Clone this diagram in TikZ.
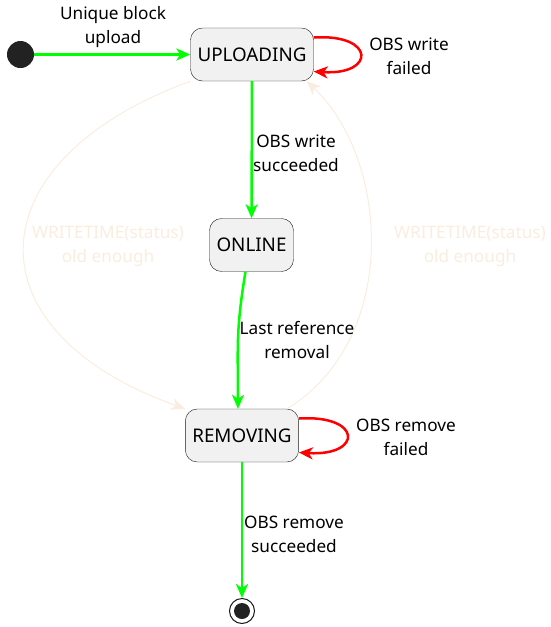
\documentclass[tikz,border=0pt]{standalone}
\usepackage{fontspec}
\setmainfont{Noto Sans}
\usetikzlibrary{arrows.meta,calc}
\definecolor{stategray}{HTML}{F1F1F1}
\definecolor{stateline}{HTML}{181818}
\definecolor{dotgray}{HTML}{222222}
\definecolor{okgreen}{HTML}{00FF00}
\definecolor{failred}{HTML}{FF0000}
\definecolor{agewhite}{HTML}{FAEDDF}
\tikzset{
  state/.style={draw=stateline,fill=stategray,rounded corners=12pt,minimum height=53pt,inner xsep=7pt,font=\fontsize{18.8}{20}\selectfont},
  trans/.style={font=\fontsize{17.2}{24}\selectfont,align=center,inner sep=0pt},
  okline/.style={draw=okgreen,line width=2.5pt,->},
  failline/.style={draw=failred,line width=2.5pt,->},
  ageline/.style={draw=agewhite,line width=1pt,->},
}

\begin{document}
\begin{tikzpicture}[x=1pt,y=-1pt,>={Stealth[length=14pt,width=12pt,inset=4pt]}]
\useasboundingbox (0,0) rectangle (551,627);
% states
\node [circle,fill=dotgray,minimum size=27pt,inner sep=0pt] (ini) at (20.5,54.5) {};
\node [state] (upl) at (252,54.5) {UPLOADING};
\node [state] (onl) at (251.5,245) {ONLINE};
\node [state] (rem) at (242,435.5) {REMOVING};
\node [circle,draw=stateline,line width=1pt,minimum size=25pt,inner sep=0pt] (fin) at (242,611) {};
\node [circle,fill=dotgray,minimum size=16pt,inner sep=0pt] (finDot) at (fin) {};

% transitions
\draw [okline] (ini) -- (upl);
\draw [failline] ([yshift=17pt]upl.east) .. controls +(62,-4) and +(62,4) .. ([yshift=-17pt]upl.east);
\draw [okline] (upl) -- (onl);
\draw [okline] ([xshift=-6pt]onl.south) .. controls +(-10,60) and +(0,-60) .. ([xshift=-4pt]rem.north);
\draw [failline] ([yshift=17pt]rem.east) .. controls +(64,-4) and +(64,4) .. ([yshift=-17pt]rem.east);
\draw [okline] (rem) -- (fin);
\draw [ageline] (upl.south west) .. controls (-25,160) and (-35,330) .. (rem.north west);
\draw [ageline] ([xshift=-12pt]rem.north east) .. controls (400,340) and (390,160) .. ([xshift=-7pt]upl.south east);

% labels
\node [trans] (lUpload) at (113,27) {Unique block\\upload};
\node [trans] (lWriteFail) at (409,56) {OBS write\\failed};
\node [trans] (lWriteOk) at (296,153) {OBS write\\succeeded};
\node [trans] (lLastRef) at (297,340) {Last reference\\removal};
\node [trans] (lRemFail) at (406,437) {OBS remove\\failed};
\node [trans] (lRemOk) at (294,534) {OBS remove\\succeeded};
\node [trans,text=agewhite] (lAgeL) at (108,246) {WRITETIME(status)\\old enough};
\node [trans,text=agewhite] (lAgeR) at (470,246) {WRITETIME(status)\\old enough};
\end{tikzpicture}
\end{document}
